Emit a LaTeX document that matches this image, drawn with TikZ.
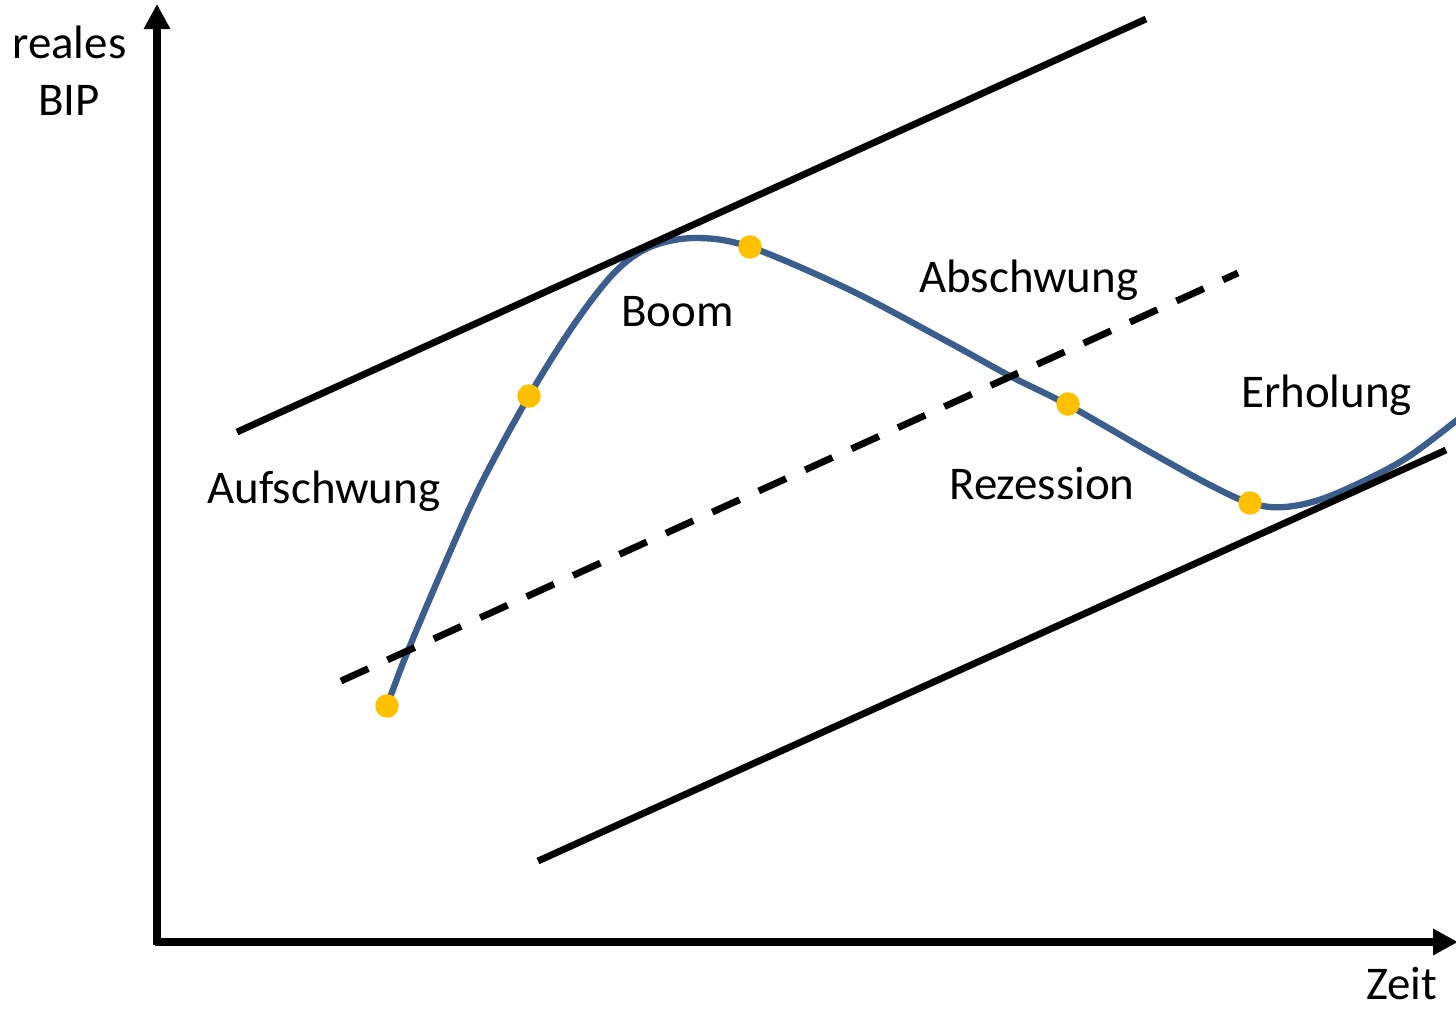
\documentclass[tikz,border=0pt]{standalone}
\usepackage{fontspec}
\setmainfont{Carlito}
\usetikzlibrary{arrows.meta}
\definecolor{curveblue}{HTML}{3B5E8C}
\definecolor{dotorange}{HTML}{FFC000}
\tikzset{
  axis/.style={line width=4.4pt,-{Triangle[length=0.5cm,width=0.5cm]}},
  trend/.style={line width=3.9pt},
  trenddash/.style={line width=3.9pt,dash pattern=on 0.6cm off 0.42cm},
  cycle/.style={line width=3.6pt,curveblue},
  dot/.style={circle,fill=dotorange,inner sep=0pt,minimum size=0.47cm},
  lbl/.style={anchor=base west,inner sep=0pt,font=\fontsize{26.7}{31}\selectfont}
}
\begin{document}
\begin{tikzpicture}[x=0.02cm,y=-0.02cm]
\useasboundingbox (0,0) rectangle (1456,1009);
\begin{scope}
\clip (0,0) rectangle (1456,1009);
% curve
\draw[cycle] plot[smooth,tension=0.55] coordinates {
 (387,706) (405,658) (440,575) (480,486) (529,396) (575,323) (615,272) (650,247)
 (695,238) (750,247) (850,290) (950,343) (1010,376) (1068,405) (1150,452)
 (1210,485) (1250,503) (1285,507) (1330,496) (1400,462) (1456,421) (1480,402)};
% trend lines
\coordinate (u1) at (237,432);
\coordinate (u2) at (1146,19);
\coordinate (l1) at (538,861);
\coordinate (l2) at (1446,450);
\coordinate (d1) at (341,681);
\coordinate (d2) at (1238,273);
\draw[trend] (u1) -- (u2);
\draw[trend] (l1) -- (l2);
\draw[trenddash] (d1) -- (d2);
% axes
\coordinate (o) at (157,942);
\coordinate (ytip) at (157,4);
\coordinate (xtip) at (1458,942);
\draw[axis] (157,945) -- (ytip);
\draw[axis] (155,942) -- (xtip);
% dots
\node[dot] (p1) at (387,706) {};
\node[dot] (p2) at (529,396) {};
\node[dot] (p3) at (750,247) {};
\node[dot] (p4) at (1068,404) {};
\node[dot] (p5) at (1250,503) {};
\end{scope}
% labels
\node[lbl] (reales) at (12,58) {reales};
\node[lbl] (bip) at (38,115) {BIP};
\node[lbl] (auf) at (207,503) {Aufschwung};
\node[lbl] (boom) at (621,326) {Boom};
\node[lbl] (ab) at (919,292) {Abschwung};
\node[lbl] (erh) at (1241,407) {Erholung};
\node[lbl] (rez) at (949,499) {Rezession};
\node[lbl] (zeit) at (1366,999) {Zeit};
\end{tikzpicture}
\end{document}
